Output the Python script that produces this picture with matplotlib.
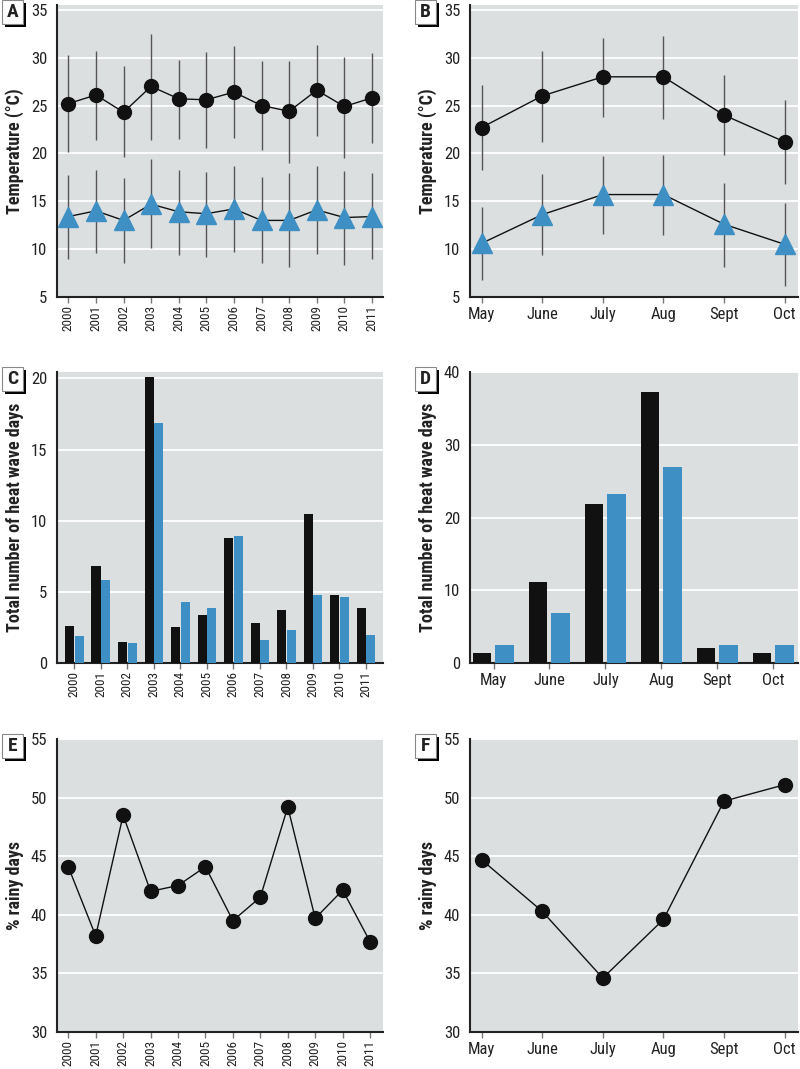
import matplotlib
matplotlib.use('Agg')
import matplotlib.pyplot as plt
from matplotlib import font_manager as fm
from matplotlib.patches import Rectangle
import numpy as np

# pick a condensed face if one is installed, the reference uses a narrow sans
installed = {f.name for f in fm.fontManager.ttflist}
narrow = [n for n in ['Roboto Condensed', 'Archivo Narrow', 'Liberation Sans Narrow'] if n in installed]
if narrow:
    plt.rcParams['font.family'] = [narrow[0], 'DejaVu Sans']
    fs = 1.0
else:
    plt.rcParams['font.family'] = ['Liberation Sans', 'DejaVu Sans']
    fs = 0.8

years = ['2000', '2001', '2002', '2003', '2004', '2005',
         '2006', '2007', '2008', '2009', '2010', '2011']
months = ['May', 'June', 'July', 'Aug', 'Sept', 'Oct']

# A: yearly temperature (max / min) with ranges
tmax_year = [25.2, 26.1, 24.3, 27.0, 25.7, 25.6, 26.4, 25.0, 24.4, 26.6, 24.9, 25.8]
tmax_year_lo = [20.1, 21.4, 19.6, 21.4, 21.5, 20.6, 21.6, 20.4, 19.0, 21.8, 19.5, 21.1]
tmax_year_hi = [30.3, 30.7, 29.1, 32.5, 29.8, 30.6, 31.2, 29.7, 29.7, 31.3, 30.1, 30.5]
tmin_year = [13.4, 14.0, 13.0, 14.7, 13.9, 13.7, 14.2, 13.0, 13.0, 14.1, 13.3, 13.4]
tmin_year_lo = [9.0, 9.6, 8.5, 10.1, 9.4, 9.2, 9.7, 8.6, 8.1, 9.5, 8.3, 9.0]
tmin_year_hi = [17.7, 18.3, 17.4, 19.4, 18.3, 18.1, 18.7, 17.5, 18.0, 18.7, 18.2, 17.9]

# B: monthly temperature
tmax_month = [22.7, 26.0, 28.0, 28.0, 24.0, 21.2]
tmax_month_lo = [18.3, 21.2, 23.8, 23.6, 19.8, 16.8]
tmax_month_hi = [27.1, 30.7, 32.1, 32.3, 28.2, 25.6]
tmin_month = [10.6, 13.6, 15.7, 15.7, 12.6, 10.5]
tmin_month_lo = [6.8, 9.4, 11.6, 11.5, 8.1, 6.2]
tmin_month_hi = [14.4, 17.8, 19.7, 19.8, 16.9, 14.8]

# C / D: heat wave days
hw_year_black = [2.6, 6.8, 1.5, 20.1, 2.5, 3.4, 8.8, 2.8, 3.7, 10.5, 4.75, 3.9]
hw_year_blue = [1.9, 5.8, 1.4, 16.9, 4.3, 3.85, 8.9, 1.6, 2.35, 4.8, 4.65, 2.0]
hw_month_black = [1.4, 11.2, 21.8, 37.2, 2.1, 1.4]
hw_month_blue = [2.5, 6.9, 23.2, 26.9, 2.5, 2.5]

# E / F: rainy days
rain_year = [44.1, 38.2, 48.5, 42.0, 42.5, 44.1, 39.5, 41.5, 49.2, 39.7, 42.1, 37.7]
rain_month = [44.7, 40.3, 34.6, 39.6, 49.7, 51.1]

BG = '#dcdfe0'
BLUE = '#3d8fc4'
BLACK = '#111111'
TXT = '#222222'
W, H = 800, 1069

fig = plt.figure(figsize=(8, 10.69), dpi=100)


def make_ax(left, top, right, bottom):
    ax = fig.add_axes([left / W, 1 - bottom / H, (right - left) / W, (bottom - top) / H])
    ax.set_facecolor(BG)
    for s in ['top', 'right']:
        ax.spines[s].set_visible(False)
    for s in ['left', 'bottom']:
        ax.spines[s].set_color(TXT)
        ax.spines[s].set_linewidth(1.5)
    ax.yaxis.grid(True, color='white', lw=1.3)
    ax.set_axisbelow(True)
    ax.tick_params(axis='y', length=0, pad=7, labelsize=12 * fs, labelcolor=TXT)
    ax.tick_params(axis='x', length=4, width=1, color='#777777', labelsize=12 * fs,
                   labelcolor=TXT)
    return ax


def year_ticks(ax):
    ax.set_xticks(np.arange(len(years)))
    ax.set_xticklabels(years, rotation=90, fontsize=9.5 * fs)
    ax.tick_params(axis='x', pad=2)


def ylab(ax, text):
    ax.set_ylabel(text, fontsize=13 * fs, fontweight='bold', labelpad=5, color=TXT)


def panel_label(ax, letter):
    bb = ax.get_position()
    x0 = bb.x0 * W - 55
    y0 = (1 - bb.y1) * H - 5
    fig.patches.append(Rectangle(((x0 + 3) / W, 1 - (y0 + 27) / H), 21 / W, 24 / H,
                                 transform=fig.transFigure, fc='black', ec='none', zorder=5))
    fig.patches.append(Rectangle((x0 / W, 1 - (y0 + 24) / H), 21 / W, 24 / H,
                                 transform=fig.transFigure, fc='white', ec='#888888',
                                 lw=0.8, zorder=6))
    fig.text((x0 + 10.5) / W, 1 - (y0 + 12) / H, letter, ha='center', va='center',
             fontsize=14 * fs, fontweight='bold', zorder=7, color=TXT)


def temp_panel(ax, n, hi_m, hi_lo, hi_hi, lo_m, lo_lo, lo_hi):
    x = np.arange(n)
    ax.vlines(x, hi_lo, hi_hi, color='#555555', lw=1, zorder=2)
    ax.vlines(x, lo_lo, lo_hi, color='#555555', lw=1, zorder=2)
    ax.plot(x, hi_m, color=BLACK, lw=1, marker='o', ms=10, zorder=3)
    ax.plot(x, lo_m, color=BLACK, lw=1, marker='^', ms=14, mfc=BLUE, mec=BLUE, zorder=3)
    ax.set_ylim(5, 35.5)
    ax.set_yticks(range(5, 36, 5))
    ylab(ax, 'Temperature (°C)')


# A
axA = make_ax(57, 5, 383, 297)
temp_panel(axA, len(years), tmax_year, tmax_year_lo, tmax_year_hi,
           tmin_year, tmin_year_lo, tmin_year_hi)
year_ticks(axA)
axA.set_xlim(-0.41, 11.4)
panel_label(axA, 'A')

# B
axB = make_ax(470, 5, 798, 297)
temp_panel(axB, len(months), tmax_month, tmax_month_lo, tmax_month_hi,
           tmin_month, tmin_month_lo, tmin_month_hi)
axB.set_xticks(np.arange(len(months)))
axB.set_xticklabels(months)
axB.set_xlim(-0.19, 5.22)
panel_label(axB, 'B')

# C
axC = make_ax(57, 372, 383, 663)
xc = np.arange(len(years))
axC.bar(xc - 0.18, hw_year_black, width=0.34, color=BLACK, zorder=3)
axC.bar(xc + 0.18, hw_year_blue, width=0.34, color=BLUE, zorder=3)
axC.set_xlim(-0.65, 11.64)
axC.set_ylim(0, 20.45)
axC.set_yticks(range(0, 21, 5))
year_ticks(axC)
ylab(axC, 'Total number of heat wave days')
panel_label(axC, 'C')

# D
axD = make_ax(470, 372, 798, 663)
xd = np.arange(len(months))
axD.bar(xd - 0.205, hw_month_black, width=0.33, color=BLACK, zorder=3)
axD.bar(xd + 0.2, hw_month_blue, width=0.33, color=BLUE, zorder=3)
axD.set_xlim(-0.42, 5.44)
axD.set_ylim(0, 40)
axD.set_yticks(range(0, 41, 10))
axD.set_xticks(xd)
axD.set_xticklabels(months)
ylab(axD, 'Total number of heat wave days')
panel_label(axD, 'D')

# E
axE = make_ax(57, 739, 383, 1032)
xe = np.arange(len(years))
axE.plot(xe, rain_year, color=BLACK, lw=1, marker='o', ms=10, zorder=3)
axE.set_xlim(-0.41, 11.47)
axE.set_ylim(30, 55)
axE.set_yticks(range(30, 56, 5))
year_ticks(axE)
ylab(axE, '% rainy days')
panel_label(axE, 'E')

# F
axF = make_ax(470, 739, 798, 1032)
xf = np.arange(len(months))
axF.plot(xf, rain_month, color=BLACK, lw=1, marker='o', ms=10, zorder=3)
axF.set_xlim(-0.19, 5.22)
axF.set_ylim(30, 55)
axF.set_yticks(range(30, 56, 5))
axF.set_xticks(xf)
axF.set_xticklabels(months)
ylab(axF, '% rainy days')
panel_label(axF, 'F')

fig.savefig('out.png', dpi=100)
